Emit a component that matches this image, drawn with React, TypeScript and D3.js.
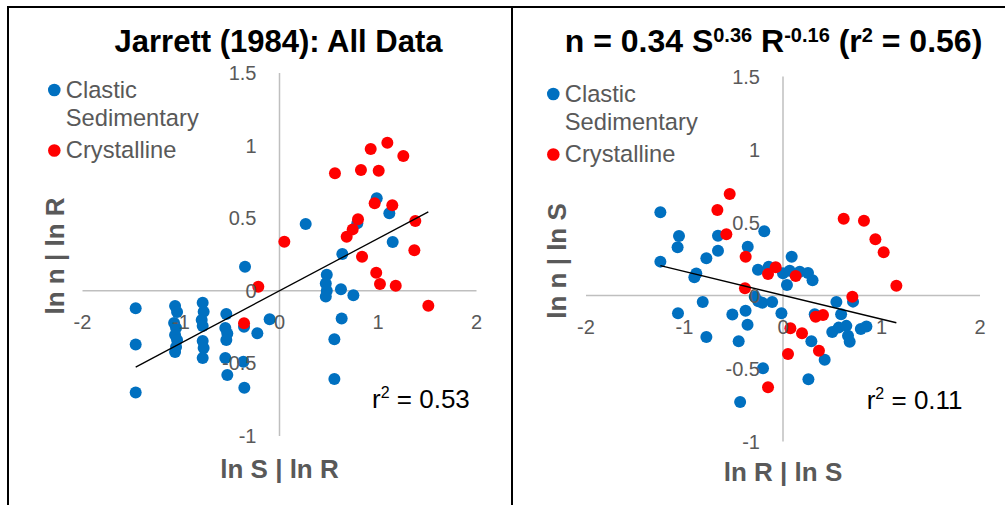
import React from "react";
import * as d3 from "d3";

// ---------- data ----------
const tickValuesX = [-2, -1, 0, 1, 2];
const tickValuesY = [-1, -0.5, 0, 0.5, 1, 1.5];
const tickLabelsX = ["-2", "-1", "0", "1", "2"];
const tickLabelsY = ["-1", "-0.5", "0", "0.5", "1", "1.5"];

const seriesNames = ["Clastic", "Sedimentary", "Crystalline"];

// Left panel: ln S | ln R  vs  ln n | ln R
const leftBlueX = [
  -1.46, -1.46, -1.46,
  -1.06, -1.04, -1.07, -1.05, -1.06, -1.04, -1.05, -1.06,
  -0.78, -0.77, -0.79, -0.78, -0.78, -0.77, -0.78,
  -0.54, -0.55, -0.53, -0.54, -0.55, -0.53,
  -0.36, -0.367, -0.357, -0.225, -0.1, -0.35, 0.266,
  0.987, 1.115, 0.79, 1.149, 0.638,
  0.48, 0.47, 0.48, 0.47, 0.624, 0.75, 0.631, 0.557, 0.557,
];
const leftBlueY = [
  -0.12, -0.37, -0.7,
  -0.105, -0.146, -0.222, -0.256, -0.304, -0.339, -0.387, -0.421,
  -0.082, -0.144, -0.201, -0.242, -0.346, -0.394, -0.463,
  -0.16, -0.256, -0.294, -0.339, -0.463, -0.58,
  -0.247, -0.488, -0.667, -0.293, -0.196, 0.166, 0.46,
  0.637, 0.534, 0.465, 0.336, 0.253,
  0.11, 0.05, 0.0, -0.04, 0.01, -0.031, -0.19, -0.334, -0.607,
];
const leftRedX = [
  -0.215, -0.36, 0.049, 0.563, 0.827, 1.007, 0.926, 1.095, 1.257, 0.966, 1.145,
  0.797, 0.743, 0.682, 1.379, 1.369, 0.838, 0.982, 1.02, 1.18, 1.511,
];
const leftRedY = [
  0.028, -0.224, 0.338, 0.809, 0.832, 0.827, 0.977, 1.02, 0.928, 0.603, 0.589,
  0.492, 0.423, 0.373, 0.481, 0.279, 0.235, 0.125, 0.047, 0.035, -0.103,
];

// Right panel: ln R | ln S  vs  ln n | ln S
const rightBlueX = [
  -1.245, -1.245, -1.056, -1.07, -0.88, -0.9, -0.778, -0.815, -1.066, -0.778,
  -0.66, -0.66, -0.358, -0.19, -0.514, -0.38, -0.36, -0.45, -0.203, -0.435,
  -0.287, -0.25, -0.21, -0.11, -0.016, -0.254, -0.145, 0, 0.04, 0.088,
  0.068, 0.17, 0.254, 0.3, 0.322, 0.288, 0.423, 0.258, 0.542, 0.59,
  0.5, 0.565, 0.643, 0.66, 0.677, 0.711, 0.79, 0.847,
];
const rightBlueY = [
  0.57, 0.232, 0.408, 0.33, 0.15, 0.125, 0.255, -0.045, -0.122, -0.284,
  0.307, 0.41, 0.334, 0.44, -0.13, -0.105, -0.2, -0.314, -0.499, -0.73,
  -0.008, -0.04, -0.05, -0.045, -0.122, 0.177, 0.197, 0.152, 0.072, 0.266,
  0.17, 0.163, 0.154, 0.104, -0.128, -0.313, -0.44, -0.574, -0.045, -0.128,
  -0.25, -0.22, -0.208, -0.276, -0.316, -0.042, -0.23, -0.212,
];
const rightRedX = [
  -0.541, -0.666, -0.575, -0.379, -0.386, -0.152, -0.074, 0.129, 0.616, 0.822,
  0.938, 1.022, 1.151, 0.704, 0.332, 0.406, 0.075, 0.193, 0.365, 0.051, -0.152,
];
const rightRedY = [
  0.695, 0.586, 0.419, 0.266, 0.049, 0.147, 0.193, 0.134, 0.526, 0.512,
  0.385, 0.296, 0.067, -0.008, -0.145, -0.134, -0.225, -0.259, -0.378, -0.4, -0.629,
];

// trendline parameters (slope, intercept)
const leftTrend = [0.36, 0.0];
const rightTrend = [-0.163, 0.001];

// ---------- styles ----------
const FONT = "'Liberation Sans', Arial, sans-serif";
const GRAY = "#595959";
const BLUE = "#0070C0";
const RED = "#FF0000";
const AXIS = "#BFBFBF";

type PanelProps = {
  xRange: [number, number];
  yRange: [number, number];
  blueX: number[];
  blueY: number[];
  redX: number[];
  redY: number[];
  trend: number[];
  xTitle: string;
  yTitle: string;
  r2: string;
  r2Pos: [number, number];
  legendPos: [number, number];
  yTitlePos: [number, number];
  xTitleY: number;
};

function Panel(p: PanelProps) {
  const x = d3.scaleLinear().domain([-2, 2]).range(p.xRange);
  const y = d3.scaleLinear().domain([-1, 1.5]).range(p.yRange);
  const allX = p.blueX.concat(p.redX);
  const [xmin, xmax] = d3.extent(allX) as [number, number];
  const line = d3
    .line<number>()
    .x((d) => x(d))
    .y((d) => y(p.trend[0] * d + p.trend[1]));
  const [lx, ly] = p.legendPos;
  return (
    <g>
      {/* axes */}
      <line x1={x(-2)} x2={x(2)} y1={y(0)} y2={y(0)} stroke={AXIS} strokeWidth={1.5} />
      <line x1={x(0)} x2={x(0)} y1={y(1.5)} y2={y(-1)} stroke={AXIS} strokeWidth={1.5} />
      {/* points */}
      {p.blueX.map((v, i) => (
        <circle key={"b" + i} cx={x(v)} cy={y(p.blueY[i])} r={6} fill={BLUE} />
      ))}
      {p.redX.map((v, i) => (
        <circle key={"r" + i} cx={x(v)} cy={y(p.redY[i])} r={6} fill={RED} />
      ))}
      <path d={line([xmin, xmax]) || ""} stroke="#000" strokeWidth={1.3} fill="none" />
      {/* tick labels */}
      {tickValuesX.map((v, i) => (
        <text key={"tx" + i} x={x(v)} y={y(0) + 38.5} textAnchor="middle" fontSize={20} fill={GRAY} fontFamily={FONT}>
          {tickLabelsX[i]}
        </text>
      ))}
      {tickValuesY.map((v, i) => (
        <text key={"ty" + i} x={x(0) - 23} y={y(v) + 7} textAnchor="end" fontSize={20} fill={GRAY} fontFamily={FONT}>
          {tickLabelsY[i]}
        </text>
      ))}
      {/* axis titles */}
      <text x={x(0)} y={p.xTitleY} textAnchor="middle" fontSize={26} fontWeight="bold" fill={GRAY} fontFamily={FONT}>
        {p.xTitle}
      </text>
      <text
        transform={`translate(${p.yTitlePos[0]},${p.yTitlePos[1]}) rotate(-90)`}
        textAnchor="middle"
        fontSize={26}
        fontWeight="bold"
        fill={GRAY}
        fontFamily={FONT}
      >
        {p.yTitle}
      </text>
      {/* legend */}
      <circle cx={lx} cy={ly} r={6.3} fill={BLUE} />
      <text x={lx + 11.5} y={ly + 8.3} fontSize={23.7} fill={GRAY} fontFamily={FONT}>
        {seriesNames[0]}
      </text>
      <text x={lx + 11.5} y={ly + 36.3} fontSize={23.7} fill={GRAY} fontFamily={FONT}>
        {seriesNames[1]}
      </text>
      <circle cx={lx} cy={ly + 60.5} r={6.3} fill={RED} />
      <text x={lx + 11.5} y={ly + 67.5} fontSize={23.7} fill={GRAY} fontFamily={FONT}>
        {seriesNames[2]}
      </text>
      {/* r2 */}
      <text x={p.r2Pos[0]} y={p.r2Pos[1]} fontSize={26} fill="#000" fontFamily={FONT}>
        r<tspan fontSize={16} dy={-10}>2</tspan>
        <tspan dy={10}>{" = " + p.r2}</tspan>
      </text>
    </g>
  );
}

export default function App() {
  return (
    <svg
      width={1005}
      height={505}
      style={{ position: "absolute", left: 0, top: 0, background: "#fff" }}
    >
      <rect x={0} y={0} width={1005} height={505} fill="#fff" />
      {/* frames */}
      <line x1={8} x2={1005} y1={7} y2={7} stroke="#000" strokeWidth={2} />
      <line x1={8} x2={8} y1={6} y2={505} stroke="#000" strokeWidth={2} />
      <line x1={512} x2={512} y1={6} y2={505} stroke="#000" strokeWidth={2} />

      {/* titles */}
      <text x={278.5} y={52} textAnchor="middle" fontSize={31} fontWeight="bold" fill="#000" fontFamily={FONT}>
        Jarrett (1984): All Data
      </text>
      <text x={773.5} y={52} textAnchor="middle" fontSize={32} fontWeight="bold" fill="#000" fontFamily={FONT}>
        n = 0.34 S<tspan fontSize={20} dy={-10}>0.36</tspan>
        <tspan dy={10}> R</tspan>
        <tspan fontSize={20} dy={-10}>-0.16</tspan>
        <tspan dy={10}> (r</tspan>
        <tspan fontSize={20} dy={-10}>2</tspan>
        <tspan dy={10}> = 0.56)</tspan>
      </text>

      <Panel
        xRange={[82.5, 476.5]}
        yRange={[436, 73]}
        blueX={leftBlueX}
        blueY={leftBlueY}
        redX={leftRedX}
        redY={leftRedY}
        trend={leftTrend}
        xTitle="ln S | ln R"
        yTitle="ln n | ln R"
        r2="0.53"
        r2Pos={[372, 408]}
        legendPos={[54.3, 90]}
        yTitlePos={[64, 256]}
        xTitleY={478}
      />
      <Panel
        xRange={[586, 980]}
        yRange={[441.5, 76.5]}
        blueX={rightBlueX}
        blueY={rightBlueY}
        redX={rightRedX}
        redY={rightRedY}
        trend={rightTrend}
        xTitle="ln R | ln S"
        yTitle="ln n | ln S"
        r2="0.11"
        r2Pos={[866.7, 409]}
        legendPos={[553.3, 94]}
        yTitlePos={[566, 261]}
        xTitleY={481}
      />
    </svg>
  );
}
